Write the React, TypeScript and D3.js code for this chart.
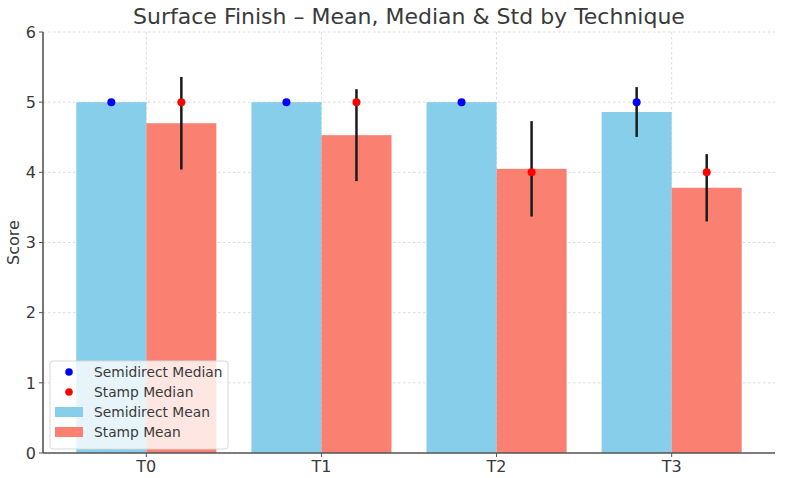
import React from "react";
import * as d3 from "d3";

const width = 785;
const height = 478;
const margin = { top: 32, right: 10, bottom: 25, left: 43 };

const techniques = ["T0", "T1", "T2", "T3"];
const semidirectMean = [5.0, 5.0, 5.0, 4.86];
const semidirectStd = [0, 0, 0, 0.355];
const semidirectMedian = [5, 5, 5, 5];
const stampMean = [4.7, 4.53, 4.05, 3.78];
const stampStd = [0.66, 0.655, 0.68, 0.48];
const stampMedian = [5, 5, 4, 4];
const yTicks = [0, 1, 2, 3, 4, 5, 6];

const barWidth = 0.4;
const font = "DejaVu Sans, sans-serif";
const textColor = "#3a3a3a";

const App = () => {
  const x = d3
    .scaleLinear()
    .domain([-0.59, 3.59])
    .range([margin.left, width - margin.right]);
  const y = d3
    .scaleLinear()
    .domain([0, 6])
    .range([height - margin.bottom, margin.top]);

  const bw = x(barWidth) - x(0);

  const series = [
    { mean: semidirectMean, std: semidirectStd, median: semidirectMedian, offset: -barWidth / 2, fill: "#87CEEB", dot: "#0000ff" },
    { mean: stampMean, std: stampStd, median: stampMedian, offset: barWidth / 2, fill: "#FA8072", dot: "#ff0000" },
  ];

  const legendItems = [
    { label: "Semidirect Median", kind: "dot", color: "#0000ff" },
    { label: "Stamp Median", kind: "dot", color: "#ff0000" },
    { label: "Semidirect Mean", kind: "patch", color: "#87CEEB" },
    { label: "Stamp Mean", kind: "patch", color: "#FA8072" },
  ];

  return (
    <svg width={width} height={height} style={{ position: "absolute", left: 0, top: 0 }}>
      <rect width={width} height={height} fill="#fff" />

      {/* grid */}
      {yTicks.map((t) => (
        <line key={"gy" + t} x1={margin.left} x2={width - margin.right} y1={y(t)} y2={y(t)} stroke="#dcdcdc" strokeDasharray="2.5,2.5" strokeWidth={1} />
      ))}
      {techniques.map((t, i) => (
        <line key={"gx" + t} x1={x(i)} x2={x(i)} y1={margin.top} y2={height - margin.bottom} stroke="#dcdcdc" strokeDasharray="2.5,2.5" strokeWidth={1} />
      ))}

      {/* bars */}
      {series.map((s, si) =>
        s.mean.map((v, i) => (
          <rect key={`b${si}-${i}`} x={x(i + s.offset) - bw / 2} y={y(v)} width={bw} height={y(0) - y(v)} fill={s.fill} />
        ))
      )}

      {/* std error bars */}
      {series.map((s, si) =>
        s.mean.map((v, i) =>
          s.std[i] > 0 ? (
            <line key={`e${si}-${i}`} x1={x(i + s.offset)} x2={x(i + s.offset)} y1={y(v - s.std[i])} y2={y(v + s.std[i])} stroke="#1a1a1a" strokeWidth={2.5} />
          ) : null
        )
      )}

      {/* medians */}
      {series.map((s, si) =>
        s.median.map((m, i) => (
          <circle key={`m${si}-${i}`} cx={x(i + s.offset)} cy={y(m)} r={4} fill={s.dot} />
        ))
      )}

      {/* axes */}
      <line x1={margin.left} x2={margin.left} y1={margin.top} y2={y(0)} stroke="#555" strokeWidth={1.6} />
      <line x1={margin.left} x2={width - margin.right} y1={y(0)} y2={y(0)} stroke="#555" strokeWidth={1.6} />
      {yTicks.map((t) => (
        <g key={"ty" + t}>
          <line x1={margin.left - 4} x2={margin.left} y1={y(t)} y2={y(t)} stroke="#555" strokeWidth={1} />
          <text x={margin.left - 7} y={y(t)} dy="0.36em" textAnchor="end" fontFamily={font} fontSize={16} fill={textColor}>
            {t}
          </text>
        </g>
      ))}
      {techniques.map((t, i) => (
        <g key={"tx" + t}>
          <line x1={x(i)} x2={x(i)} y1={y(0)} y2={y(0) + 4} stroke="#555" strokeWidth={1} />
          <text x={x(i)} y={y(0) + 19} textAnchor="middle" fontFamily={font} fontSize={16} fill={textColor}>
            {t}
          </text>
        </g>
      ))}
      <text transform={`translate(19, ${(margin.top + y(0)) / 2}) rotate(-90)`} textAnchor="middle" fontFamily={font} fontSize={16} fill={textColor}>
        Score
      </text>
      <text x={(margin.left + width - margin.right) / 2} y={24} textAnchor="middle" fontFamily={font} fontSize={22} fill={textColor}>
        Surface Finish – Mean, Median &amp; Std by Technique
      </text>

      {/* legend */}
      <g transform="translate(50, 361)">
        <rect x={0} y={0} width={178} height={88} rx={3} fill="#fff" fillOpacity={0.8} stroke="#d8d8d8" />
        {legendItems.map((d, i) => (
          <g key={d.label} transform={`translate(0, ${11 + i * 20})`}>
            {d.kind === "dot" ? (
              <circle cx={19} cy={0} r={3.8} fill={d.color} />
            ) : (
              <rect x={5} y={-5} width={28} height={10} fill={d.color} />
            )}
            <text x={44} y={0} dy="0.36em" fontFamily={font} fontSize={13.8} fill={textColor}>
              {d.label}
            </text>
          </g>
        ))}
      </g>
    </svg>
  );
};

export default App;
